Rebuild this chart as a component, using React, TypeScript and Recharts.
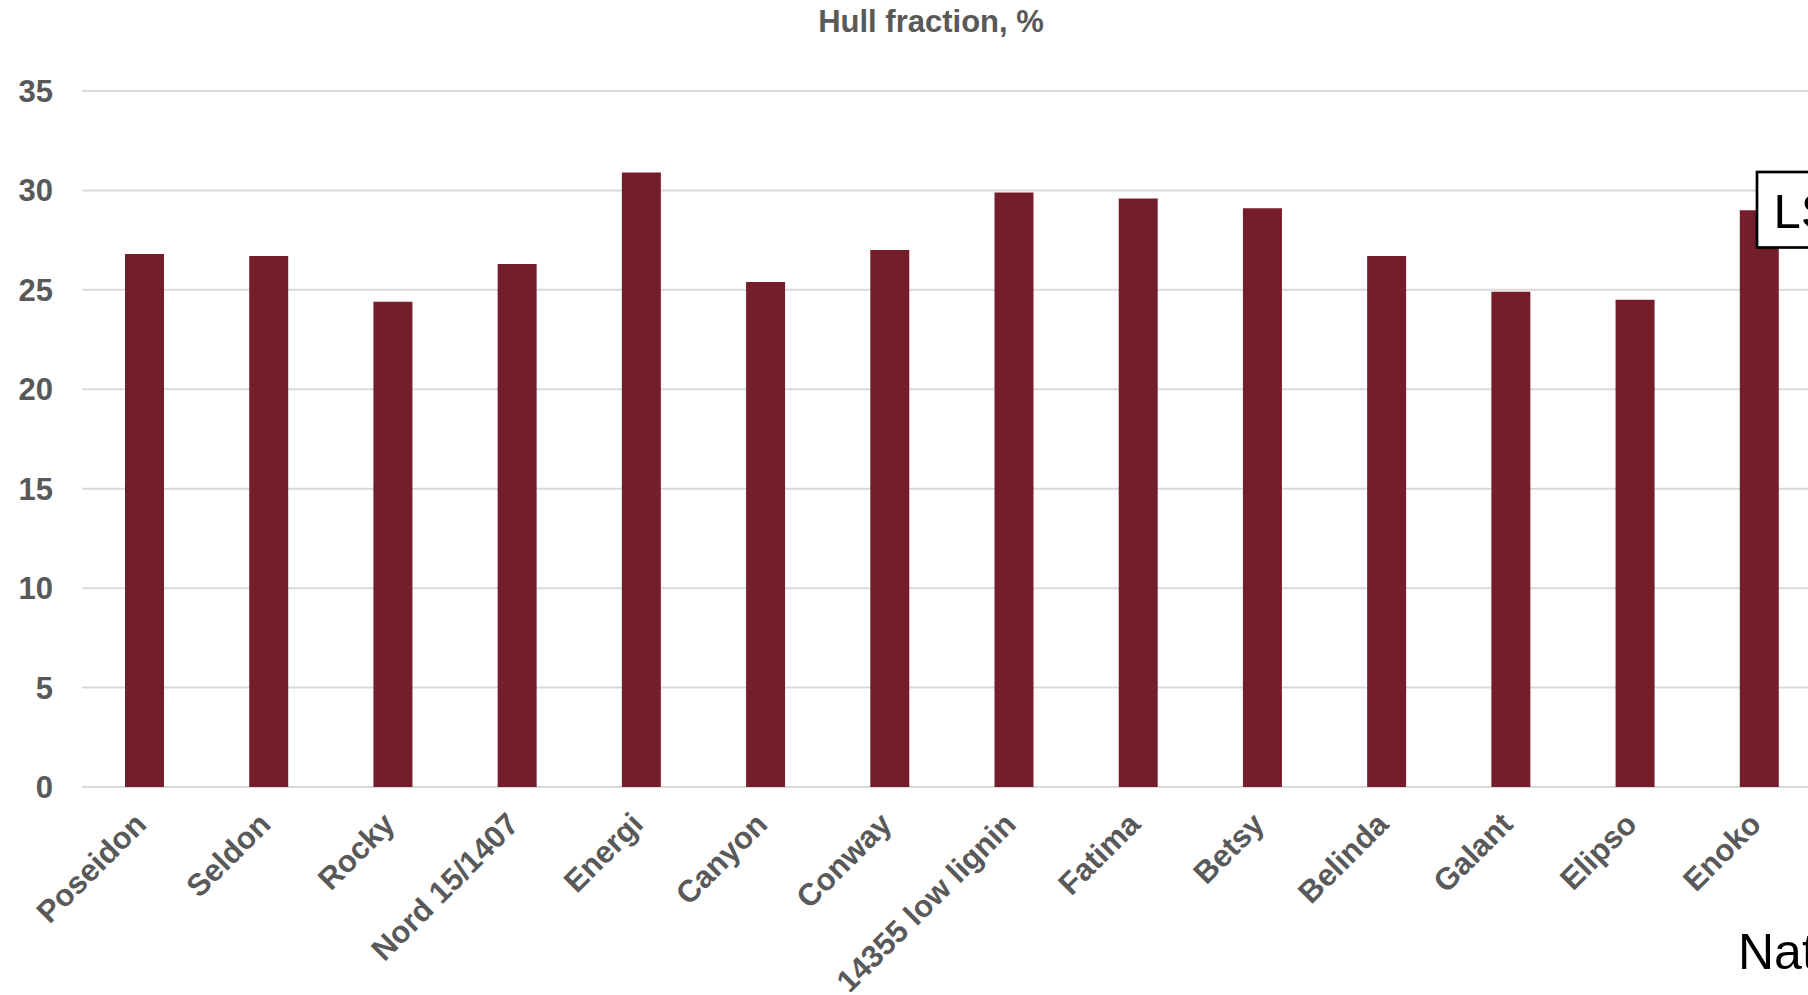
import React from "react";
import { Bar, BarChart, CartesianGrid, XAxis, YAxis } from "recharts";

const varieties = [
  "Poseidon",
  "Seldon",
  "Rocky",
  "Nord 15/1407",
  "Energi",
  "Canyon",
  "Conway",
  "14355 low lignin",
  "Fatima",
  "Betsy",
  "Belinda",
  "Galant",
  "Elipso",
  "Enoko",
];

const hullFraction = [26.8, 26.7, 24.4, 26.3, 30.9, 25.4, 27.0, 29.9, 29.6, 29.1, 26.7, 24.9, 24.5, 29.0];

const yTicks = [0, 5, 10, 15, 20, 25, 30, 35];

const data = varieties.map((name, i) => ({ name, value: hullFraction[i] }));

const FONT = "'Liberation Sans', Arial, sans-serif";
const GREY = "#595959";

function VarietyTick({ x, y, payload }: any) {
  return (
    <text
      transform={`translate(${x + 4},${y + 31}) rotate(-45)`}
      textAnchor="end"
      fill={GREY}
      fontFamily={FONT}
      fontWeight="bold"
      fontSize={31}
    >
      {payload.value}
    </text>
  );
}

export default function App() {
  return (
    <div
      style={{
        position: "fixed",
        top: 0,
        left: 0,
        width: 1808,
        height: 995,
        overflow: "hidden",
        background: "#fff",
      }}
    >
      <BarChart width={1830} height={995} data={data} margin={{ top: 91, right: 9, left: 0, bottom: 0 }}>
        <CartesianGrid vertical={false} stroke="#d9d9d9" strokeWidth={2} />
        <XAxis
          dataKey="name"
          axisLine={false}
          tickLine={false}
          interval={0}
          height={208}
          tick={<VarietyTick />}
        />
        <YAxis
          domain={[0, 35]}
          ticks={yTicks}
          width={82}
          axisLine={false}
          tickLine={false}
          tickSize={6}
          tickMargin={23}
          tick={{ fill: GREY, fontFamily: FONT, fontWeight: "bold", fontSize: 31 }}
        />
        <Bar dataKey="value" fill="#751e2b" barSize={39} isAnimationActive={false} />
      </BarChart>
      <svg
        width={1808}
        height={995}
        style={{ position: "absolute", top: 0, left: 0, pointerEvents: "none" }}
      >
        <text x={931} y={31.5} textAnchor="middle" fill={GREY} fontFamily={FONT} fontWeight="bold" fontSize={31}>
          Hull fraction, %
        </text>
        <rect x={1757} y={172} width={120} height={75.5} fill="#fff" stroke="#000" strokeWidth={2.7} />
        <text x={1773.5} y={228} fill="#000" fontFamily={FONT} fontSize={49}>
          LS
        </text>
        <text x={1738} y={969} fill="#000" fontFamily={FONT} fontSize={50}>
          Nat
        </text>
      </svg>
    </div>
  );
}
